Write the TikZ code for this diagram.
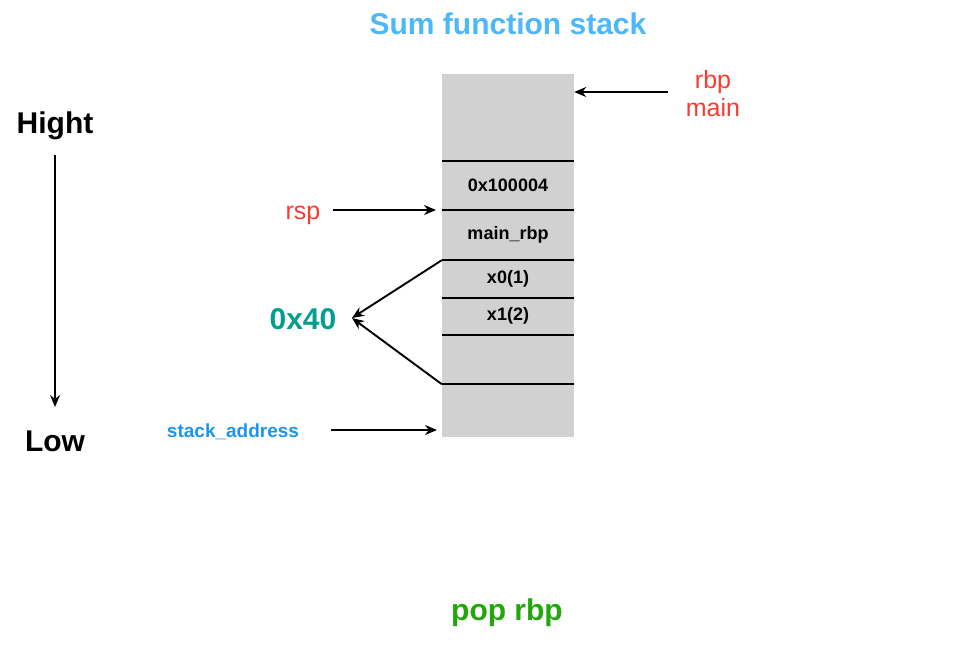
\documentclass[tikz,border=0pt]{standalone}
\usepackage{fontspec}
\setmainfont{Liberation Sans}
\usetikzlibrary{arrows.meta}
\definecolor{titleblue}{HTML}{4CB8FA}
\definecolor{regred}{HTML}{FC3A2F}
\definecolor{offteal}{HTML}{00A08C}
\definecolor{addrblue}{HTML}{1B95F0}
\definecolor{popgreen}{HTML}{21A80A}
\definecolor{cellgray}{HTML}{D1D1D1}
\begin{document}
\begin{tikzpicture}[x=1pt, y=-1pt,
        cell/.style={rectangle, fill=cellgray, minimum width=132pt, inner sep=0pt, font=\fontsize{18}{21}\selectfont\bfseries},
        big/.style={font=\fontsize{30}{34}\selectfont\bfseries},
        reg/.style={text=regred, font=\fontsize{25}{28}\selectfont},
        arrow/.style={-{Stealth[length=12pt, width=10pt]}, line width=1.9pt},
        sep/.style={line width=1.9pt}
    ]
    \useasboundingbox (0,0) rectangle (963,668);

    % stack cells
    \node[cell, minimum height=87pt] (top) at (508,117.5) {};
    \node[cell, minimum height=49pt] (ret) at (508,185.5) {0x100004};
    \node[cell, minimum height=50pt] (mrbp) at (508,235) {main\_rbp};
    \node[cell, minimum height=37pt] (xa) at (508,279) {x0(1)};
    \node[cell, minimum height=37pt] (xb) at (508,316) {x1(2)};
    \node[cell, minimum height=50pt] (free) at (508,359) {};
    \node[cell, minimum height=53pt] (base) at (508,410.5) {};

    \draw[sep] (top.south west) -- (top.south east);
    \draw[sep] (ret.south west) -- (ret.south east);
    \draw[sep] (mrbp.south west) -- (mrbp.south east);
    \draw[sep] (xa.south west) -- (xa.south east);
    \draw[sep] (xb.south west) -- (xb.south east);
    \draw[sep] (free.south west) -- (free.south east);

    % labels
    \node[big, text=titleblue] (title) at (508,24) {Sum function stack};
    \node[big] (high) at (55,126) {Hight};
    \node[big] (low) at (55,441) {Low};
    \node[reg, align=center] (rbp) at (713,94) {rbp\\main};
    \node[reg] (rsp) at (303,215) {rsp};
    \node[big, text=offteal] (off) at (303,319) {0x40};
    \node[text=addrblue, font=\fontsize{19}{22}\selectfont\bfseries] (addr) at (233,432) {stack\_address};
    \node[text=popgreen, font=\fontsize{30}{33}\selectfont\bfseries] (pop) at (507,613) {pop rbp};

    \coordinate (tip) at (352,318);

    \draw[arrow] (55,155) -- (55,407);
    \draw[arrow] (668,92) -- (top.east |- 0,92);
    \draw[arrow] (333,210) -- (436,210);
    \draw[arrow] (331,430) -- (437,430);
    \draw[arrow] (mrbp.south west) -- (tip);
    \draw[arrow] (free.south west) -- (tip);

\end{tikzpicture}
\end{document}
